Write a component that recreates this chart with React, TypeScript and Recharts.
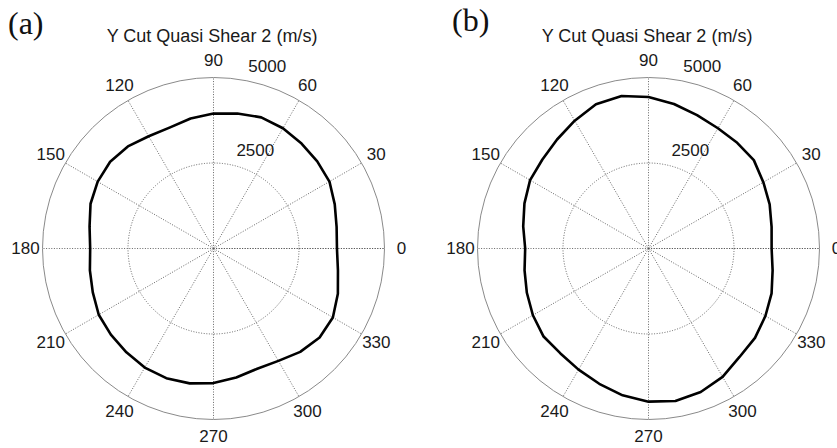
import { RadarChart, Radar, PolarGrid, PolarAngleAxis, PolarRadiusAxis } from 'recharts'

// polar angle in degrees, 0 = east, counter-clockwise
const angles = [0, 10, 20, 30, 40, 50, 60, 70, 80, 90, 100, 110, 120, 130, 140, 150, 160, 170,
  180, 190, 200, 210, 220, 230, 240, 250, 260, 270, 280, 290, 300, 310, 320, 330, 340, 350]

// quasi shear 2 velocity (m/s), panel (a)
const speedA = [3610, 3655, 3773, 3915, 3960, 4005, 4060, 4080, 4010, 3945, 3860, 3760,
  3790, 3895, 3945, 3910, 3826, 3680, 3606, 3670, 3756, 3875, 3918, 3962,
  4020, 4035, 4005, 3935, 3830, 3740, 3795, 3945, 4050, 4030, 3870, 3695]

// quasi shear 2 velocity (m/s), panel (b)
const speedB = [3600, 3655, 3770, 3877, 4020, 4035, 4060, 4150, 4290, 4432, 4530, 4490,
  4315, 4160, 4050, 3998, 3860, 3720, 3606, 3680, 3785, 3903, 4005, 4005,
  4090, 4210, 4360, 4478, 4530, 4465, 4333, 4140, 4065, 3947, 3830, 3685]

const title = 'Y Cut Quasi Shear 2 (m/s)'

const R = 171
const CY = 248.5
const SANS = '"Liberation Sans", Arial, sans-serif'
const SERIF = '"Liberation Serif", "Times New Roman", serif'

const AngleTick = (props: any) => {
  const { x, y, payload } = props
  if (payload.value >= 360) return null
  return (
    <text x={x} y={y} textAnchor="middle" dominantBaseline="central"
      fontSize={17} fontFamily={SANS} fill="#1a1a1a">
      {payload.value}
    </text>
  )
}

const RadiusTick = (props: any) => {
  const { x, y, payload } = props
  if (!payload.value) return null
  return (
    <text x={x + 11} y={y - 13} textAnchor="start" dominantBaseline="central"
      fontSize={17} fontFamily={SANS} fill="#1a1a1a">
      {payload.value}
    </text>
  )
}

const Panel = ({ speeds, left, width, cx }: { speeds: number[]; left: number; width: number; cx: number }) => {
  const data = angles.map((a, i) => ({ angle: a, speed: speeds[i] }))
  return (
    <div style={{ position: 'absolute', left, top: 0 }}>
      <RadarChart width={width} height={448} data={data} cx={cx} cy={CY}
        outerRadius={R} innerRadius={0} startAngle={0} endAngle={360}
        margin={{ top: 0, right: 0, bottom: 0, left: 0 }}>
        <PolarGrid gridType="circle" polarRadius={[R / 2]} stroke="#555"
          strokeWidth={0.9} strokeDasharray="1 1.6" />
        <PolarGrid gridType="circle" polarRadius={[R]} radialLines={false}
          stroke="#8a8a8a" strokeWidth={1} />
        <PolarAngleAxis dataKey="angle" type="number" domain={[0, 360]} tickCount={13}
          axisLine={false} tickLine={false} tickSize={17} tick={AngleTick} />
        <PolarRadiusAxis angle={82} domain={[0, 5000]} tickCount={3}
          axisLine={false} tickLine={false} tick={RadiusTick} />
        <Radar dataKey="speed" stroke="#000" strokeWidth={2.6} strokeLinejoin="round"
          fill="none" fillOpacity={0} dot={false} isAnimationActive={false} />
      </RadarChart>
    </div>
  )
}

export default function App() {
  return (
    <div style={{ position: 'absolute', left: 0, top: 0, width: 837, height: 448, background: '#fff', overflow: 'hidden' }}>
      <Panel speeds={speedA} left={0} width={418} cx={213.5} />
      <Panel speeds={speedB} left={418} width={419} cx={230.5} />
      <svg width={837} height={448} style={{ position: 'absolute', left: 0, top: 0, pointerEvents: 'none' }}>
        <text x={8} y={34} fontSize={32} fontFamily={SERIF} fill="#111">(a)</text>
        <text x={452} y={31} fontSize={32} fontFamily={SERIF} fill="#111">(b)</text>
        <text x={212} y={41.5} textAnchor="middle" fontSize={18} fontFamily={SANS} fill="#1a1a1a">{title}</text>
        <text x={647} y={41.5} textAnchor="middle" fontSize={18} fontFamily={SANS} fill="#1a1a1a">{title}</text>
      </svg>
    </div>
  )
}
